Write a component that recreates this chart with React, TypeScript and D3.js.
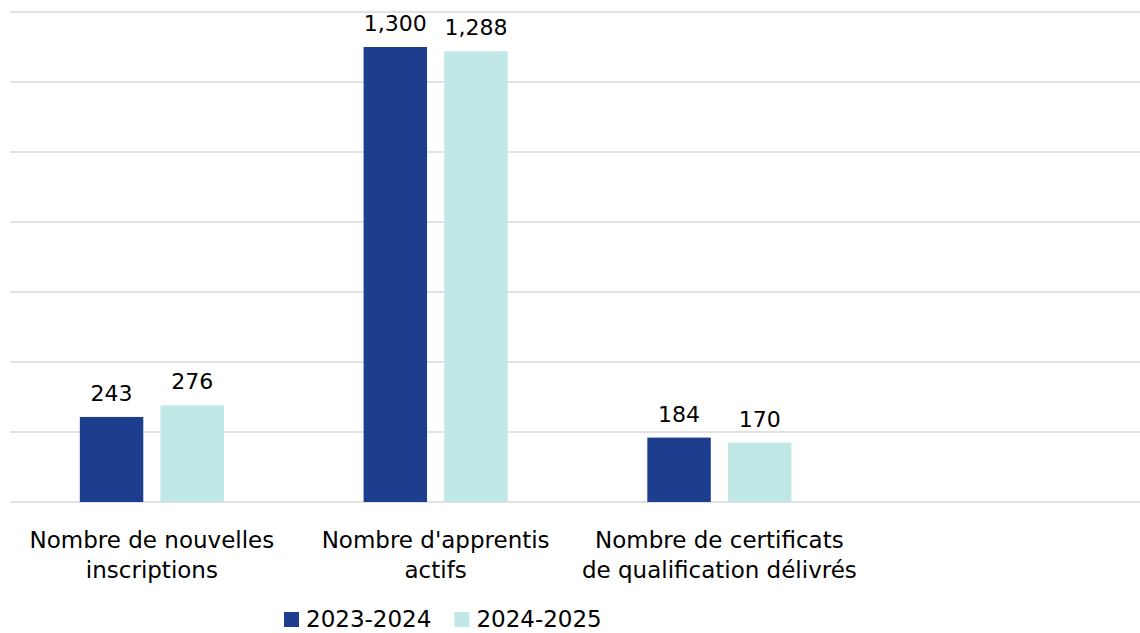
import React, { useEffect, useRef } from "react";
import * as d3 from "d3";

const categories = [
  ["Nombre de nouvelles", "inscriptions"],
  ["Nombre d'apprentis", "actifs"],
  ["Nombre de certificats", "de qualification délivrés"],
];
const seriesNames = ["2023-2024", "2024-2025"];
const values2023 = [243, 1300, 184];
const values2024 = [276, 1288, 170];
const colors = ["#1D3E8F", "#C0E8E6"];
const yTicks = [0, 200, 400, 600, 800, 1000, 1200, 1400];

const W = 1140;
const H = 633;
const FONT = "'DejaVu Sans', Verdana, sans-serif";

export default function App() {
  const ref = useRef<SVGSVGElement>(null);

  useEffect(() => {
    const svg = d3.select(ref.current);
    svg.selectAll("*").remove();

    const plotLeft = 10;
    const plotRight = 1145;
    const y = d3.scaleLinear().domain([0, 1400]).range([502, 12]);

    const catKeys = categories.map((_, i) => String(i));
    const x0 = d3
      .scaleBand<string>()
      .domain([...catKeys, "empty"])
      .range([plotLeft, plotRight]);
    const x1 = d3
      .scaleBand<string>()
      .domain(seriesNames)
      .range([0, x0.bandwidth()])
      .paddingInner(0.213)
      .paddingOuter(0.866);

    // gridlines
    svg
      .append("g")
      .selectAll("line")
      .data(yTicks)
      .join("line")
      .attr("x1", plotLeft)
      .attr("x2", W)
      .attr("y1", (d) => y(d))
      .attr("y2", (d) => y(d))
      .attr("stroke", "#D9D9D9")
      .attr("stroke-width", 1.6);

    const seriesData = [values2023, values2024];

    // bars
    seriesData.forEach((vals, si) => {
      const g = svg.append("g");
      g.selectAll("rect")
        .data(vals)
        .join("rect")
        .attr("x", (_, i) => x0(String(i))! + x1(seriesNames[si])!)
        .attr("y", (d) => y(d))
        .attr("width", x1.bandwidth())
        .attr("height", (d) => y(0) - y(d))
        .attr("fill", colors[si]);
      g.selectAll("text")
        .data(vals)
        .join("text")
        .attr("x", (_, i) => x0(String(i))! + x1(seriesNames[si])! + x1.bandwidth() / 2)
        .attr("y", (d) => y(d) - 16)
        .attr("text-anchor", "middle")
        .attr("font-family", FONT)
        .attr("font-size", 22)
        .attr("fill", "#000")
        .text((d) => d3.format(",")(d));
    });

    // category labels
    const cg = svg.append("g");
    categories.forEach((lines, i) => {
      const cx = x0(String(i))! + x0.bandwidth() / 2;
      const t = cg
        .append("text")
        .attr("text-anchor", "middle")
        .attr("font-family", FONT)
        .attr("font-size", 23)
        .attr("fill", "#000");
      lines.forEach((ln, li) => {
        t.append("tspan").attr("x", cx).attr("y", 548 + li * 30).text(ln);
      });
    });

    // legend
    const lg = svg.append("g");
    let lx = 284;
    seriesNames.forEach((name, si) => {
      lg.append("rect")
        .attr("x", lx)
        .attr("y", 612)
        .attr("width", 15)
        .attr("height", 15)
        .attr("fill", colors[si]);
      const t = lg
        .append("text")
        .attr("x", lx + 22)
        .attr("y", 627)
        .attr("font-family", FONT)
        .attr("font-size", 23)
        .attr("fill", "#000")
        .text(name);
      const tw = (t.node() as SVGTextElement).getComputedTextLength();
      lx = lx + 22 + tw + 23;
    });
  }, []);

  return (
    <svg
      ref={ref}
      width={W}
      height={H}
      style={{ position: "absolute", left: 0, top: 0, background: "#fff" }}
    />
  );
}
